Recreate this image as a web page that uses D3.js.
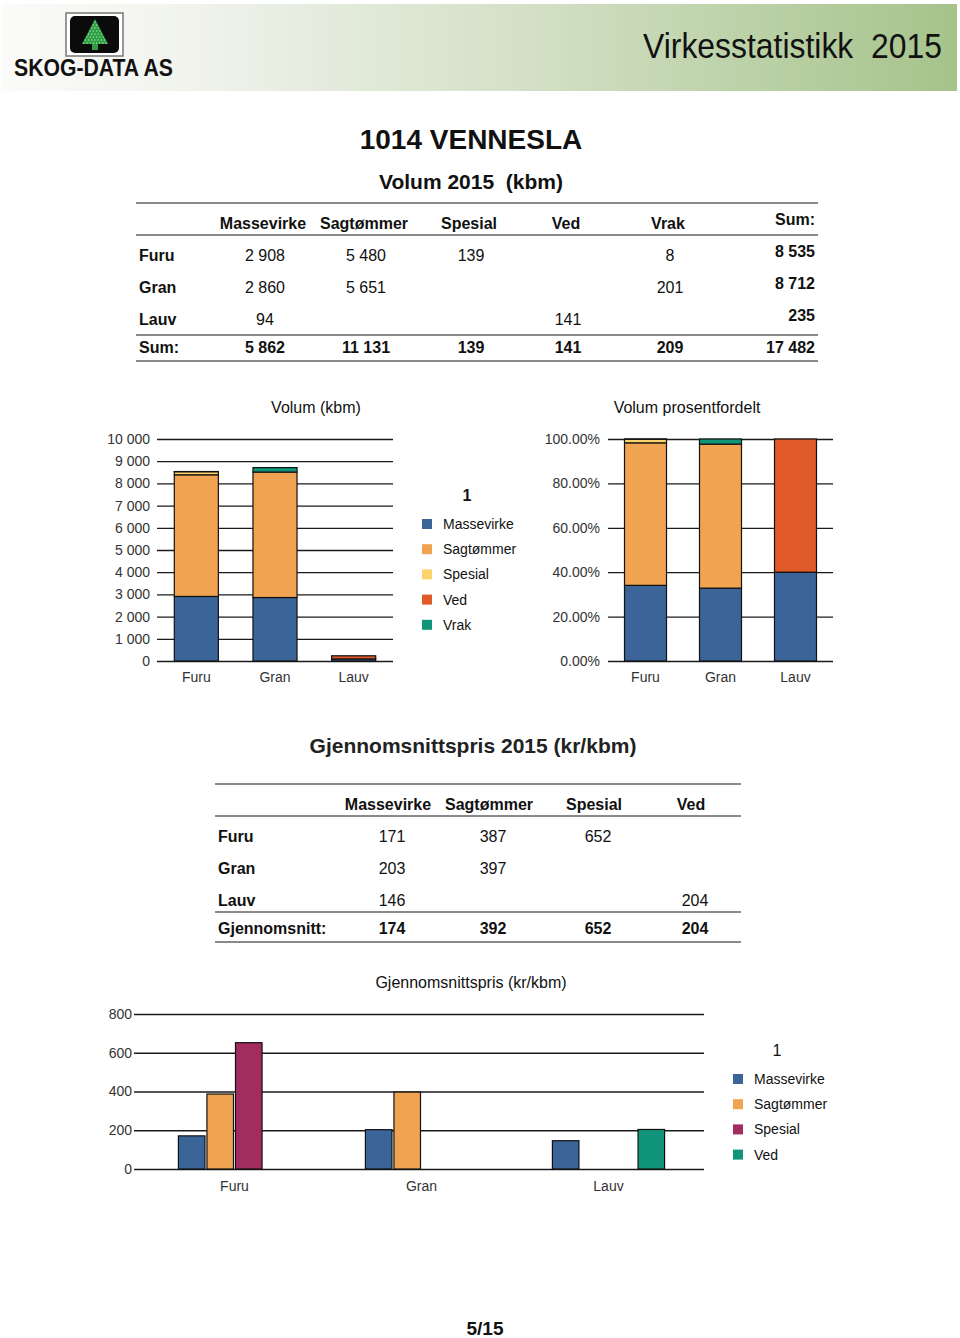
<!DOCTYPE html>
<html><head><meta charset="utf-8">
<script src="https://cdn.jsdelivr.net/npm/d3@7"></script>
<style>
html,body{margin:0;padding:0;background:#fff;}
svg text{font-family:"Liberation Sans",Arial,sans-serif;white-space:pre;}
</style></head>
<body><svg id="c" width="960" height="1338"></svg>
<script>
// ---------- data ----------
const categories = ["Furu", "Gran", "Lauv"];
const assortments = ["Massevirke", "Sagtømmer", "Spesial", "Ved", "Vrak"];
const volMassevirke = [2908, 2860, 94];
const volSagtommer = [5480, 5651, 0];
const volSpesial = [139, 0, 0];
const volVed = [0, 0, 141];
const volVrak = [8, 201, 0];
const volSumRow = [8535, 8712, 235];
const volSumCol = [5862, 11131, 139, 141, 209];
const volTotal = 17482;
const volTicks = [0, 1000, 2000, 3000, 4000, 5000, 6000, 7000, 8000, 9000, 10000];
const pctTicks = [0, 0.2, 0.4, 0.6, 0.8, 1.0];

const priceAssort = ["Massevirke", "Sagtømmer", "Spesial", "Ved"];
const priceMassevirke = [171, 203, 146];
const priceSagtommer = [387, 397, null];
const priceSpesial = [652, null, null];
const priceVed = [null, null, 204];
const priceAvg = [174, 392, 652, 204];
const priceTicks = [0, 200, 400, 600, 800];

const colVol = {"Massevirke":"#3b6598","Sagtømmer":"#f0a452","Spesial":"#fbd26c","Ved":"#df5a27","Vrak":"#11957a"};
const colPrice = {"Massevirke":"#3b6598","Sagtømmer":"#f0a452","Spesial":"#a22c5f","Ved":"#11957a"};

const svg = d3.select("#c");
const fmt = v => v == null || v === 0 ? "" : d3.format(",")(v).replace(/,/g, " ");

// ---------- header ----------
const defs = svg.append("defs");
const g = defs.append("linearGradient").attr("id","hdr").attr("x1","0").attr("x2","1");
g.append("stop").attr("offset","0").attr("stop-color","#fbfbf9");
g.append("stop").attr("offset","0.18").attr("stop-color","#f2f4ee");
g.append("stop").attr("offset","0.55").attr("stop-color","#d3e0c6");
g.append("stop").attr("offset","1").attr("stop-color","#a6c38b");
svg.append("rect").attr("x",2).attr("y",4).attr("width",955).attr("height",87).attr("fill","url(#hdr)");

// condensed text via horizontal scale
function condensed(x, y, s, size, width, bold) {
  const gg = svg.append("g");
  const t = gg.append("text").attr("x",0).attr("y",0).style("font-size",size+"px")
    .style("font-weight",bold?"bold":"normal").attr("fill","#111").text(s);
  const w = t.node().getComputedTextLength();
  gg.attr("transform",`translate(${x},${y}) scale(${width/w},1)`);
}
condensed(643, 58, "Virkesstatistikk  2015", 36, 299, false);
// logo
svg.append("rect").attr("x",66).attr("y",13).attr("width",57).attr("height",43).attr("fill","#fff").attr("stroke","#777").attr("stroke-width",1.5);
svg.append("rect").attr("x",70).attr("y",16).attr("width",49).attr("height",37).attr("rx",5).attr("fill","#0b0b0b");
svg.append("path").attr("d","M95,19 L108,44 L82,44 Z").attr("fill","#2f9e44");
svg.append("rect").attr("x",92).attr("y",44).attr("width",6).attr("height",6).attr("fill","#2f9e44");
for (let r = 0; r < 8; r++) { for (let k = 0; k <= r; k++) {
  svg.append("circle").attr("cx", 95 - r*1.6 + k*3.2).attr("cy", 22 + r*3).attr("r",0.7).attr("fill","#9fe6a8");
}}
condensed(14, 76, "SKOG-DATA AS", 24, 159, true);

// ---------- titles ----------
function txt(x,y,s,size,opts={}) {
  return svg.append("text").attr("x",x).attr("y",y).attr("text-anchor",opts.anchor||"middle")
    .style("font-size",size+"px").style("font-weight",opts.bold?"bold":"normal").attr("fill",opts.fill||"#111").text(s);
}
txt(471,149,"1014 VENNESLA",28,{bold:true});
txt(471,189,"Volum 2015  (kbm)",21,{bold:true});

// ---------- table 1 ----------
function hline(x1,x2,y){ svg.append("line").attr("x1",x1).attr("x2",x2).attr("y1",y).attr("y2",y).attr("stroke","#8a8a8a").attr("stroke-width",2); }
hline(136,818,203); hline(136,818,235); hline(136,818,335); hline(136,818,361);
const t1cols = [263,364,469,566,668];
assortments.forEach((a,i)=>txt(t1cols[i],229,a,16,{bold:true}));
txt(815,225,"Sum:",16,{bold:true,anchor:"end"});
const volSeries = [volMassevirke, volSagtommer, volSpesial, volVed, volVrak];
const rowY = [261,293,325];
categories.forEach((c,r)=>{
  txt(139,rowY[r],c,16,{bold:true,anchor:"start"});
  volSeries.forEach((s,i)=>txt(t1cols[i]+2,rowY[r],fmt(s[r]),16));
  txt(815,rowY[r]-4,fmt(volSumRow[r]),16,{bold:true,anchor:"end"});
});
txt(139,353,"Sum:",16,{bold:true,anchor:"start"});
volSumCol.forEach((v,i)=>txt(t1cols[i]+2,353,fmt(v),16,{bold:true}));
txt(815,353,fmt(volTotal),16,{bold:true,anchor:"end"});

// ---------- chart 1: stacked volume ----------
const stackData = categories.map((c,r)=>{ const o={cat:c}; assortments.forEach((a,i)=>o[a]=volSeries[i][r]); return o; });
const stack = d3.stack().keys(assortments)(stackData);
const x1 = d3.scaleBand().domain(categories).range([157,393]).paddingInner(0.44).paddingOuter(0.22);
const y1 = d3.scaleLinear().domain([0,10000]).range([661,439]);
txt(316,413,"Volum (kbm)",16);
const ax1 = svg.append("g").attr("transform","translate(157,0)")
  .call(d3.axisLeft(y1).tickValues(volTicks).tickSize(-236).tickPadding(7).tickFormat(v => d3.format(",")(v).replace(/,/g," ")));
function styleAxis(ax){
  ax.select(".domain").remove();
  ax.selectAll(".tick line").attr("stroke","#1a1a1a").attr("stroke-width",1.3);
  ax.selectAll(".tick text").style("font-size","14px").attr("fill","#333").style("font-family",'"Liberation Sans",Arial,sans-serif');
}
styleAxis(ax1);
svg.append("g").selectAll("g").data(stack).join("g").attr("fill",d=>colVol[d.key])
  .selectAll("rect").data(d=>d).join("rect")
  .attr("x",d=>x1(d.data.cat)).attr("width",x1.bandwidth())
  .attr("y",d=>y1(d[1])).attr("height",d=>y1(d[0])-y1(d[1]))
  .attr("stroke","#111").attr("stroke-width",d=>d[1]-d[0]>0?1.2:0);
categories.forEach(c=>txt(x1(c)+x1.bandwidth()/2,682,c,14,{fill:"#333"}));

// legend 1
txt(467,501,"1",16,{bold:true});
assortments.forEach((a,i)=>{
  const y = 524 + i*25.2;
  svg.append("rect").attr("x",422).attr("y",y-5).attr("width",10).attr("height",10).attr("fill",colVol[a]);
  svg.append("text").attr("x",443).attr("y",y+5).style("font-size","14px").attr("fill","#111").text(a);
});

// ---------- chart 2: percent ----------
const pctData = categories.map((c,r)=>{ const o={cat:c}; assortments.forEach((a,i)=>o[a]=volSeries[i][r]/volSumRow[r]); return o; });
const stack2 = d3.stack().keys(assortments)(pctData);
const x2 = d3.scaleBand().domain(categories).range([608,833]).paddingInner(0.44).paddingOuter(0.22);
const y2 = d3.scaleLinear().domain([0,1]).range([661,439]);
txt(687,413,"Volum prosentfordelt",16);
const ax2 = svg.append("g").attr("transform","translate(608,0)")
  .call(d3.axisLeft(y2).tickValues(pctTicks).tickSize(-225).tickPadding(8).tickFormat(d=>(d*100).toFixed(2)+"%"));
styleAxis(ax2);
svg.append("g").selectAll("g").data(stack2).join("g").attr("fill",d=>colVol[d.key])
  .selectAll("rect").data(d=>d).join("rect")
  .attr("x",d=>x2(d.data.cat)).attr("width",x2.bandwidth())
  .attr("y",d=>y2(d[1])).attr("height",d=>y2(d[0])-y2(d[1]))
  .attr("stroke","#111").attr("stroke-width",d=>d[1]-d[0]>0?1.2:0);
categories.forEach(c=>txt(x2(c)+x2.bandwidth()/2,682,c,14,{fill:"#333"}));

// ---------- title 2 + table 2 ----------
txt(473,753,"Gjennomsnittspris 2015 (kr/kbm)",21,{bold:true,fill:"#222"});
hline(215,741,784); hline(215,741,816); hline(215,741,912); hline(215,741,942);
const t2cols = [388,489,594,691];
priceAssort.forEach((a,i)=>txt(t2cols[i],810,a,16,{bold:true}));
const priceSeries = [priceMassevirke, priceSagtommer, priceSpesial, priceVed];
const rowY2 = [842,874,906];
categories.forEach((c,r)=>{
  txt(218,rowY2[r],c,16,{bold:true,anchor:"start"});
  priceSeries.forEach((s,i)=>txt(t2cols[i]+4,rowY2[r],fmt(s[r]),16));
});
txt(218,934,"Gjennomsnitt:",16,{bold:true,anchor:"start"});
priceAvg.forEach((v,i)=>txt(t2cols[i]+4,934,fmt(v),16,{bold:true}));

// ---------- chart 3: grouped price ----------
txt(471,988,"Gjennomsnittspris (kr/kbm)",16);
const x3 = d3.scaleBand().domain(categories).range([141,702]).paddingInner(0.4).paddingOuter(0.2);
const x3i = d3.scaleBand().domain(priceAssort).range([0,x3.bandwidth()]).paddingInner(0.07);
const y3 = d3.scaleLinear().domain([0,800]).range([1169,1014]);
const ax3 = svg.append("g").attr("transform","translate(134,0)")
  .call(d3.axisLeft(y3).tickValues(priceTicks).tickSize(-570).tickPadding(2));
styleAxis(ax3);
const barData = [];
categories.forEach((c,r)=>priceAssort.forEach((a,i)=>{ if (priceSeries[i][r] != null) barData.push({cat:c,key:a,v:priceSeries[i][r]}); }));
svg.append("g").selectAll("rect").data(barData).join("rect")
  .attr("x",d=>x3(d.cat)+x3i(d.key)).attr("width",x3i.bandwidth())
  .attr("y",d=>y3(d.v)).attr("height",d=>y3(0)-y3(d.v))
  .attr("fill",d=>colPrice[d.key]).attr("stroke","#111").attr("stroke-width",1.2);
categories.forEach(c=>txt(x3(c)+x3.bandwidth()/2,1191,c,14,{fill:"#333"}));

// legend 3
txt(777,1056,"1",16);
priceAssort.forEach((a,i)=>{
  const y = 1079 + i*25.2;
  svg.append("rect").attr("x",733).attr("y",y-5).attr("width",10).attr("height",10).attr("fill",colPrice[a]);
  svg.append("text").attr("x",754).attr("y",y+5).style("font-size","14px").attr("fill","#111").text(a);
});

// footer
txt(485,1335,"5/15",19,{bold:true});
</script></body></html>
